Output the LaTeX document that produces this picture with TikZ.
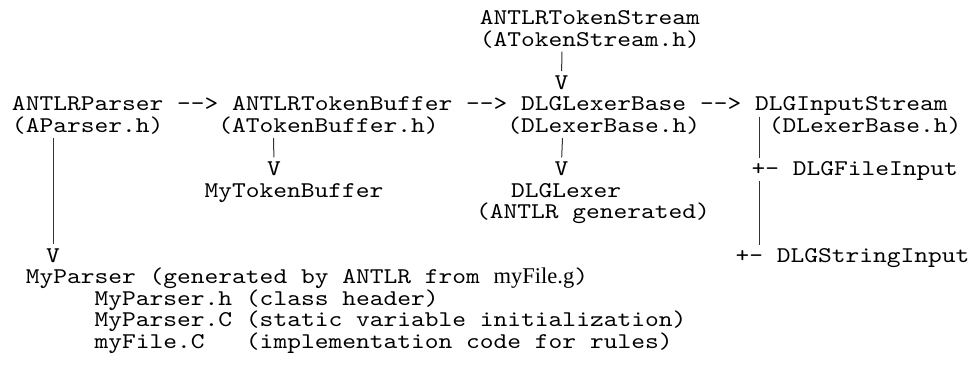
\documentclass[tikz,border=0pt]{standalone}
\usepackage{fontspec}
\newfontfamily\cour{lmmono10-regular.otf}[FakeStretch=1.165]
\newfontfamily\tms{Liberation Serif}
\begin{document}
\frenchspacing
\begin{tikzpicture}[x=1pt,y=-1pt,
  txt/.style={font=\cour\fontsize{22.5}{21.6}\selectfont, anchor=base west, inner sep=0pt, outer sep=0pt, text=black},
  vee/.style={font=\cour\fontsize{22.5}{21.6}\selectfont, anchor=base, inner sep=0pt, outer sep=0pt, text=black},
  bar/.style={line width=1pt, draw=black!80}]
\useasboundingbox (0,0) rectangle (971,364);
% row 1-4
\node[txt] (ats)  at (479.8,24.5) {ANTLRTokenStream};
\node[txt] (atsh) at (479.8,46.1) {(ATokenStream.h)};
\node[vee] (v1)   at (561.5,89.3) {V};
% row 5
\node[txt] (ap)   at (12,110.9)    {ANTLRParser};
\node[txt] (ar1)  at (177.1,110.9) {-{}-{}>};
\node[txt] (atb)  at (232.2,110.9) {ANTLRTokenBuffer};
\node[txt] (ar2)  at (466.1,110.9) {-{}-{}>};
\node[txt] (dlb)  at (521.1,110.9) {DLGLexerBase};
\node[txt] (ar3)  at (700,110.9)   {-{}-{}>};
\node[txt] (dis)  at (755,110.9)   {DLGInputStream};
% row 6
\node[txt] (aph)  at (12,132.5)    {(AParser.h)};
\node[txt] (atbh) at (218.4,132.5) {(ATokenBuffer.h)};
\node[txt] (dlbh) at (507.4,132.5) {(DLexerBase.h)};
\node[txt] (dish) at (768.8,132.5) {(DLexerBase.h)};
% row 8
\node[vee] (v2)   at (274,175.7)   {V};
\node[vee] (v3)   at (561.5,175.7) {V};
\node[txt] (dfi)  at (751.5,175.7) {+- DLGFileInput};
% row 9-10
\node[txt] (mtb)  at (204.6,197.3) {MyTokenBuffer};
\node[txt] (dl)   at (511,197.3)   {DLGLexer};
\node[txt] (dlg)  at (476,218.9)   {(ANTLR generated)};
% row 12
\node[vee] (v4)   at (53,262.1)    {V};
\node[txt] (dsi)  at (735.5,262.1) {+- DLGStringInput};
% rows 13-16
\node[txt] (mp)   at (25.8,283.7)  {MyParser (generated by ANTLR from {\tms myFile.g})};
\node[txt] (mph)  at (94.6,305.3)  {MyParser.h (class header)};
\node[txt] (mpc)  at (94.6,326.9)  {MyParser.C (static variable initialization)};
\node[txt] (mfc)  at (94.6,348.5)  {myFile.C\ \ \ (implementation code for rules)};
% bar end points
\coordinate (b1) at (562,51.7);
\coordinate (b2) at (53,138.1);
\coordinate (b3) at (273.5,138.1);
\coordinate (b4) at (562.5,138.1);
\coordinate (r1) at (759,116.5);
\coordinate (r2) at (759,158.1);
\coordinate (r3) at (759,181.3);
\coordinate (r4) at (759,244.5);
\draw[bar, shorten >=4.5pt] (b1) -- (v1.north);
\draw[bar, shorten >=4.5pt] (b2) -- (v4.north);
\draw[bar, shorten >=4.5pt] (b3) -- (v2.north);
\draw[bar, shorten >=4.5pt] (b4) -- (v3.north);
\draw[bar] (r1) -- (r2);
\draw[bar] (r3) -- (r4);
\end{tikzpicture}
\end{document}
